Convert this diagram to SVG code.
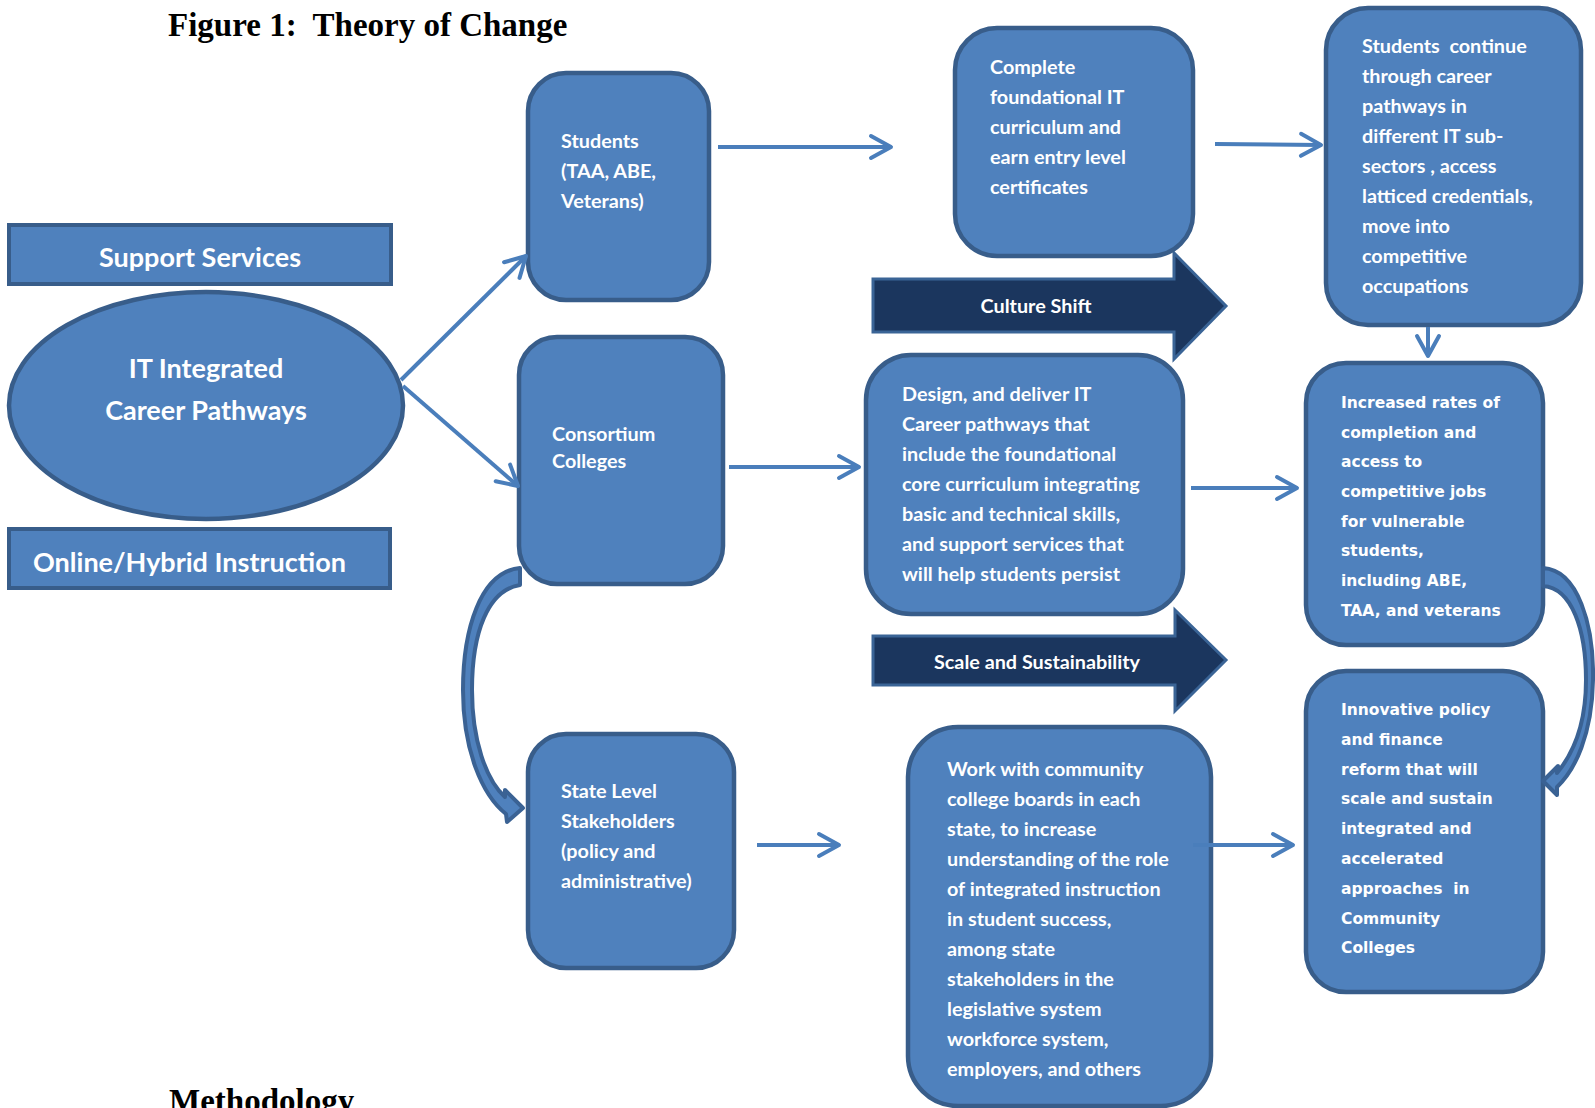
<svg xmlns="http://www.w3.org/2000/svg" width="1595" height="1108" viewBox="0 0 1595 1108">
<style>
.box{fill:#4F81BD;stroke:#385D8A;stroke-width:4.5}
.bar{fill:#4F81BD;stroke:#385D8A;stroke-width:4}
.dark{fill:#1B365E;stroke:#3A6496;stroke-width:3}
.curve{fill:#4F81BD;stroke:#3A6294;stroke-width:4;stroke-linejoin:round}
.t{font-family:Lato,"Liberation Sans",sans-serif;font-weight:bold;font-size:19.8px;fill:#fff}
.big{font-family:Lato,"Liberation Sans",sans-serif;font-weight:bold;font-size:27px;fill:#fff}
.v{font-family:"DejaVu Sans",Verdana,sans-serif;font-weight:bold;font-size:15.5px;fill:#fff}
.title{font-family:"Liberation Serif",serif;font-weight:bold;font-size:33px;fill:#000}
.conn line{stroke:#4A7EBB;stroke-width:4;marker-end:url(#chev)}
</style>
<defs>
<marker id="chev" viewBox="0 0 26 28" refX="23" refY="14" markerWidth="26" markerHeight="28" markerUnits="userSpaceOnUse" orient="auto">
<path d="M3 3 L23 14 L3 25" fill="none" stroke="#4A7EBB" stroke-width="4" stroke-linecap="round" stroke-linejoin="round"/>
</marker>
</defs>
<rect width="1595" height="1108" fill="#fff"/>
<text class="title" x="168" y="36" xml:space="preserve">Figure 1:  Theory of Change</text>
<text class="title" x="169" y="1112">Methodology</text>

<g id="culture-shift">
<polygon class="dark" points="873,279 1174,279 1174,253 1226,306 1174,359 1174,332 873,332"/>
<text class="t" x="1036" y="313" text-anchor="middle">Culture Shift</text>
</g>
<g id="scale-sustainability">
<polygon class="dark" points="873,636 1175,636 1175,610 1226,660 1175,711 1175,685 873,685"/>
<text class="t" x="1037" y="669" text-anchor="middle">Scale and Sustainability</text>
</g>

<g id="support-services">
<rect class="bar" x="9" y="225" width="382" height="59"/>
<text class="big" x="200" y="267" text-anchor="middle">Support Services</text>
</g>
<g id="online-hybrid">
<rect class="bar" x="9" y="529" width="381" height="59"/>
<text class="big" x="33" y="572">Online/Hybrid Instruction</text>
</g>
<g id="it-pathways">
<ellipse class="box" cx="206" cy="405.5" rx="197" ry="113.5"/>
<text class="big" x="206" y="378" text-anchor="middle">IT Integrated</text>
<text class="big" x="206" y="420" text-anchor="middle">Career Pathways</text>
</g>
<g id="students">
<rect class="box" x="528" y="73" width="181" height="227" rx="38"/>
<text class="t" x="561" y="148">Students</text>
<text class="t" x="561" y="178">(TAA, ABE,</text>
<text class="t" x="561" y="208">Veterans)</text>
</g>
<g id="consortium">
<rect class="box" x="519" y="337" width="204" height="247" rx="38"/>
<text class="t" x="552" y="441">Consortium</text>
<text class="t" x="552" y="468">Colleges</text>
</g>
<g id="state-level">
<rect class="box" x="528" y="734" width="206" height="234" rx="38"/>
<text class="t" x="561" y="798">State Level</text>
<text class="t" x="561" y="828">Stakeholders</text>
<text class="t" x="561" y="858">(policy and</text>
<text class="t" x="561" y="888">administrative)</text>
</g>
<g id="complete-foundational">
<rect class="box" x="955" y="28" width="238" height="228" rx="42"/>
<text class="t" x="990" y="74">Complete</text>
<text class="t" x="990" y="104">foundational IT</text>
<text class="t" x="990" y="134">curriculum and</text>
<text class="t" x="990" y="164">earn entry level</text>
<text class="t" x="990" y="194">certificates</text>
</g>
<g id="students-continue">
<rect class="box" x="1326" y="8" width="255" height="317" rx="42"/>
<text class="t" x="1362" y="53" xml:space="preserve">Students  continue</text>
<text class="t" x="1362" y="83">through career</text>
<text class="t" x="1362" y="113">pathways in</text>
<text class="t" x="1362" y="143">different IT sub-</text>
<text class="t" x="1362" y="173" xml:space="preserve">sectors , access</text>
<text class="t" x="1362" y="203">latticed credentials,</text>
<text class="t" x="1362" y="233">move into</text>
<text class="t" x="1362" y="263">competitive</text>
<text class="t" x="1362" y="293">occupations</text>
</g>
<g id="design-deliver">
<rect class="box" x="866" y="355" width="317" height="259" rx="45"/>
<text class="t" x="902" y="401">Design, and deliver IT</text>
<text class="t" x="902" y="431">Career pathways that</text>
<text class="t" x="902" y="461">include the foundational</text>
<text class="t" x="902" y="491">core curriculum integrating</text>
<text class="t" x="902" y="521">basic and technical skills,</text>
<text class="t" x="902" y="551">and support services that</text>
<text class="t" x="902" y="581">will help students persist</text>
</g>
<g id="work-with">
<rect class="box" x="908" y="727" width="303" height="379" rx="50"/>
<text class="t" x="947" y="776">Work with community</text>
<text class="t" x="947" y="806">college boards in each</text>
<text class="t" x="947" y="836">state, to increase</text>
<text class="t" x="947" y="866">understanding of the role</text>
<text class="t" x="947" y="896">of integrated instruction</text>
<text class="t" x="947" y="926">in student success,</text>
<text class="t" x="947" y="956">among state</text>
<text class="t" x="947" y="986">stakeholders in the</text>
<text class="t" x="947" y="1016">legislative system</text>
<text class="t" x="947" y="1046">workforce system,</text>
<text class="t" x="947" y="1076">employers, and others</text>
</g>
<g id="increased-rates">
<rect class="box" x="1306" y="363" width="237" height="282" rx="40"/>
<text class="v" x="1341" y="408">Increased rates of</text>
<text class="v" x="1341" y="438">completion and</text>
<text class="v" x="1341" y="467">access to</text>
<text class="v" x="1341" y="497">competitive jobs</text>
<text class="v" x="1341" y="527">for vulnerable</text>
<text class="v" x="1341" y="556">students,</text>
<text class="v" x="1341" y="586">including ABE,</text>
<text class="v" x="1341" y="616">TAA, and veterans</text>
</g>
<g id="innovative-policy">
<rect class="box" x="1306" y="671" width="237" height="321" rx="40"/>
<text class="v" x="1341" y="715">Innovative policy</text>
<text class="v" x="1341" y="745">and finance</text>
<text class="v" x="1341" y="775">reform that will</text>
<text class="v" x="1341" y="804">scale and sustain</text>
<text class="v" x="1341" y="834">integrated and</text>
<text class="v" x="1341" y="864">accelerated</text>
<text class="v" x="1341" y="894" xml:space="preserve">approaches  in</text>
<text class="v" x="1341" y="924">Community</text>
<text class="v" x="1341" y="953">Colleges</text>
</g>

<g id="connectors">
<path class="curve" d="M520 568 C480 572 463 630 463 690 C463 750 482 795 506 814 L507 822 L523 808 L505 790 L505 797 C486 780 472 740 472 690 C472 632 488 590 520 585 Z"/>
<path class="curve" d="M1543 568 C1578 570 1594 625 1593 680 C1592 735 1575 770 1557 787 L1557 795 L1543 781 L1558 766 L1557 773 C1572 755 1586 725 1586 680 C1586 630 1572 588 1543 586 Z"/>
<g class="conn">
<line x1="401" y1="380" x2="526" y2="256"/>
<line x1="403" y1="386" x2="518" y2="486"/>
<line x1="718" y1="147" x2="891" y2="147"/>
<line x1="1215" y1="144" x2="1321" y2="145"/>
<line x1="1428" y1="327" x2="1428" y2="356"/>
<line x1="729" y1="467" x2="859" y2="467"/>
<line x1="1191" y1="488" x2="1297" y2="488"/>
<line x1="757" y1="845" x2="839" y2="845"/>
<line x1="1193" y1="845" x2="1293" y2="845"/>
</g>
</g>
</svg>
